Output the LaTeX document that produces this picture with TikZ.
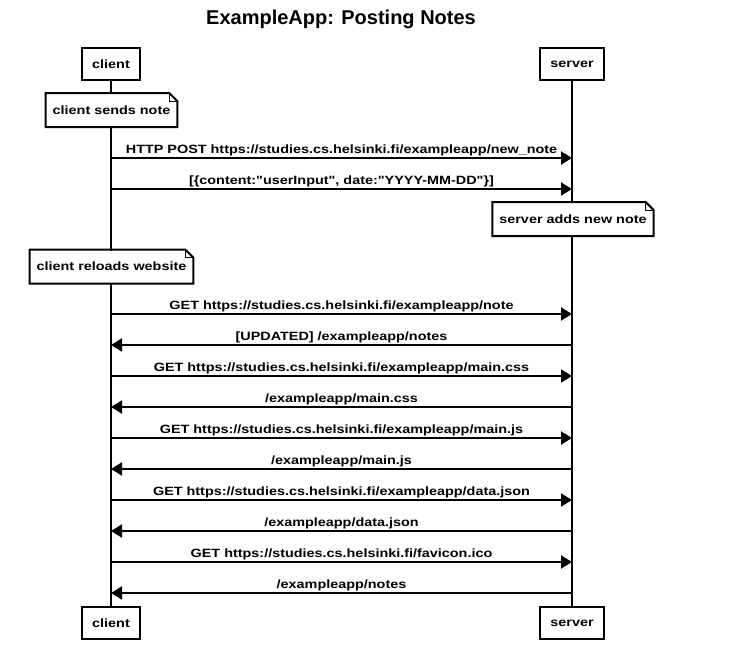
\documentclass[tikz,border=0pt]{standalone}
\usepackage{fontspec}
\setmainfont{Liberation Sans}
\newfontfamily\seqfont[FakeStretch=1.2]{Liberation Sans}
\usetikzlibrary{arrows.meta,positioning}
\newcommand\seqtext{\seqfont\bfseries\fontsize{12}{14}\selectfont}
% outline of a note with a folded corner
\newcommand\dogear[1]{%
  \draw (#1.south west) -- (#1.north west) -- ([xshift=-8pt]#1.north east)
        -- ([yshift=-8pt]#1.north east) -- (#1.south east) -- cycle;
  \draw[line width=1pt] ([xshift=-8pt]#1.north east) |- ([yshift=-8pt]#1.north east);}

\begin{document}
\begin{tikzpicture}[x=1pt,y=-1pt,line width=2pt,
          actor/.style={draw,fill=white,minimum height=32pt,inner xsep=10pt,
                        font=\seqtext},
          memo/.style={fill=white,minimum height=32pt,inner xsep=6pt,
                       font=\seqtext},
          msg/.style={-{Triangle[length=11pt,width=13pt]}},
          lbl/.style={above,inner sep=1.5pt,font=\seqtext}]
        \useasboundingbox (0,0) rectangle (749,645);
        \node[anchor=base,font=\bfseries\fontsize{20}{24}\selectfont] (title) at (341,24)
          {ExampleApp: Posting Notes};
        \node[actor] (client) at (111,64) {client};
        \node[actor] (server) at (572,64) {server};
        \node[actor] (clientb) at (111,623) {client};
        \node[actor] (serverb) at (572,623) {server};
        \draw (client) -- (clientb);
        \draw (server) -- (serverb);
        \node[memo] (sends) at (111.5,110) {client sends note};
        \dogear{sends}
        \node[memo] (adds) at (573,219) {server adds new note};
        \dogear{adds}
        \node[memo] (reloads) at (111.5,266.5) {client reloads website};
        \dogear{reloads}
        \foreach \i/\y/\from/\to/\txt in {
            1/158/c/s/{HTTP POST https://studies.cs.helsinki.fi/exampleapp/new\_note},
            2/189/c/s/{[\{content:"userInput", date:"YYYY-MM-DD"\}]},
            3/314/c/s/{GET https://studies.cs.helsinki.fi/exampleapp/note},
            4/345/s/c/{[UPDATED] /exampleapp/notes},
            5/376/c/s/{GET https://studies.cs.helsinki.fi/exampleapp/main.css},
            6/407/s/c/{/exampleapp/main.css},
            7/438/c/s/{GET https://studies.cs.helsinki.fi/exampleapp/main.js},
            8/469/s/c/{/exampleapp/main.js},
            9/500/c/s/{GET https://studies.cs.helsinki.fi/exampleapp/data.json},
            10/531/s/c/{/exampleapp/data.json},
            11/562/c/s/{GET https://studies.cs.helsinki.fi/favicon.ico},
            12/593/s/c/{/exampleapp/notes}} {
          \coordinate (c\i) at (client |- 0,\y);
          \coordinate (s\i) at (server |- 0,\y);
          \draw[msg] (\from\i) -- node[lbl] {\txt} (\to\i);
        }
      \end{tikzpicture}
\end{document}
